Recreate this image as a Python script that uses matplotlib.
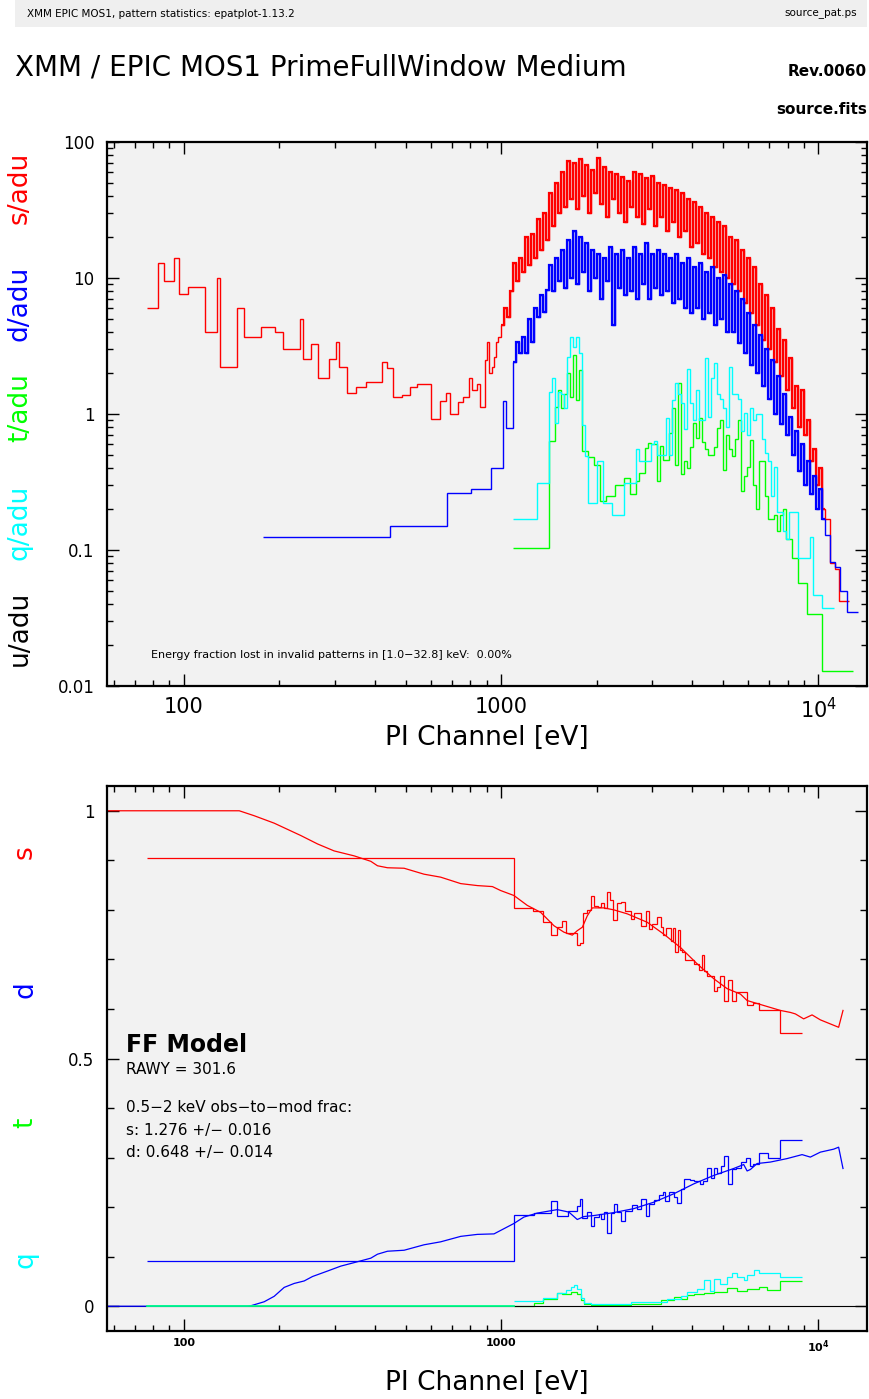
import matplotlib
matplotlib.use("Agg")
import matplotlib.pyplot as plt
from matplotlib.patches import Rectangle
from matplotlib.ticker import LogLocator, MultipleLocator, NullFormatter

W, H = 869, 1399

# ---------------- top panel: pattern spectra per adu ----------------
# singles, coarse low-energy bins
s_low_edges = [76.3, 83.0, 86.3, 92.8, 96.2, 103.2, 116.7, 126.8, 130.1, 147.2,
               154.2, 174.4, 194.0, 204.6, 231.4, 237.5, 251.7, 264.8, 285.6, 300.5,
               308.4, 326.1, 349.9, 373.6, 422.6, 438.2, 457.7, 488.5, 517.6, 542.0,
               601.0, 641.6, 668.7, 689.9, 729.6, 760.4, 790.1, 811.7, 837.4, 857.7,
               889.4, 905.0, 915.6, 938.6, 949.4, 966.2, 977.0, 1000]
s_low = [6.02, 13.0, 9.55, 14.1, 7.59, 8.54, 4.03, 10.0, 2.22, 6.02,
         3.68, 4.36, 4.03, 3.02, 5.02, 2.52, 3.25, 1.85, 2.52, 3.37,
         2.20, 1.43, 1.57, 1.72, 2.42, 2.19, 1.34, 1.38, 1.57, 1.67,
         0.923, 1.25, 1.43, 1.0, 1.22, 1.34, 1.84, 1.50, 1.67, 1.12,
         2.50, 3.37, 2.01, 2.20, 2.61, 3.39, 3.68]

# fine PI channel grid 1 - 10.5 keV
pi_edges = [1000, 1022, 1044, 1067, 1091, 1115, 1139, 1164, 1190, 1216,
            1243, 1270, 1298, 1327, 1356, 1386, 1416, 1447, 1479, 1512,
            1545, 1579, 1614, 1649, 1685, 1722, 1760, 1799, 1839, 1879,
            1920, 1962, 2006, 2050, 2095, 2141, 2188, 2236, 2285, 2336,
            2387, 2440, 2493, 2548, 2604, 2661, 2720, 2780, 2841, 2903,
            2967, 3032, 3099, 3167, 3237, 3308, 3381, 3455, 3531, 3609,
            3688, 3769, 3852, 3937, 4023, 4112, 4202, 4295, 4389, 4486,
            4584, 4685, 4788, 4894, 5001, 5111, 5224, 5339, 5456, 5576,
            5699, 5824, 5952, 6083, 6217, 6354, 6493, 6636, 6782, 6931,
            7084, 7240, 7399, 7562, 7728, 7898, 8072, 8250, 8431, 8617,
            8806, 9000, 9198, 9400, 9607, 9818, 10034, 10255, 10481]

s_mid = [4.5, 6.0, 5.2, 8.0, 13.0, 9.5, 14.0, 11.0, 20.0, 12.5,
         21.0, 14.0, 27.0, 16.0, 30.0, 19.0, 42.0, 24.0, 50.0, 30.0,
         60.0, 33.0, 72.0, 38.0, 70.0, 32.0, 75.0, 40.0, 68.0, 30.0,
         62.0, 42.0, 76.0, 35.0, 66.0, 28.0, 60.0, 38.0, 58.0, 30.0,
         55.0, 26.0, 52.0, 33.0, 60.0, 28.0, 58.0, 25.0, 54.0, 32.0,
         56.0, 24.0, 50.0, 28.0, 48.0, 22.0, 46.0, 26.0, 44.0, 20.0,
         42.0, 22.0, 38.0, 17.0, 36.0, 18.0, 33.0, 15.0, 30.0, 14.0,
         28.0, 12.0, 26.0, 11.0, 24.0, 10.0, 20.0, 9.0, 19.0, 8.0,
         16.0, 6.5, 14.0, 5.5, 12.0, 4.5, 9.0, 3.5, 7.5, 3.0,
         6.0, 2.4, 4.2, 1.9, 3.5, 1.5, 2.6, 1.1, 1.6, 0.8,
         1.5, 0.7, 0.9, 0.45, 0.55, 0.3, 0.4, 0.2]
s_tail_edges = [10481, 10900, 11300, 11650, 12450]
s_tail = [0.17, 0.08, 0.073, 0.042]

# doubles
d_low_edges = [177.8, 446.5, 677, 805.6, 926.6, 1011, 1038, 1091]
d_low = [0.125, 0.149, 0.264, 0.279, 0.401, 1.25, 0.785]
d_mid = [2.4, 3.37, 2.8, 3.7, 2.8, 5.0,
         3.4, 6.0, 5.2, 7.5, 5.6, 8.2, 12.5, 8.0, 14.0, 9.5,
         16.0, 8.5, 19.0, 10.0, 22.0, 9.0, 20.0, 11.0, 18.0, 8.0,
         16.0, 10.0, 15.0, 7.0, 14.0, 9.5, 17.0, 4.5, 15.0, 8.5,
         16.0, 7.5, 14.0, 8.0, 17.0, 7.0, 15.0, 9.0, 18.0, 7.0,
         15.0, 8.5, 16.0, 7.5, 15.0, 8.0, 14.0, 6.5, 15.0, 7.0,
         13.0, 6.0, 14.0, 5.5, 12.0, 6.0, 13.0, 5.0, 11.0, 5.5,
         12.0, 4.5, 10.0, 5.0, 10.5, 4.0, 9.0, 4.0, 8.0, 3.3,
         7.0, 2.8, 5.5, 2.3, 4.5, 2.0, 3.8, 1.6, 3.0, 1.3,
         2.5, 1.0, 1.9, 0.85, 1.4, 0.7, 0.95, 0.5, 0.75, 0.38,
         0.6, 0.3, 0.45, 0.26, 0.35, 0.2, 0.28, 0.17]
d_tail_edges = [10481, 10900, 11300, 11700, 12300, 13300]
d_tail = [0.13, 0.081, 0.075, 0.05, 0.035]

# triples
t_mid = [0.103] * 12 + [0.63, 0.63, 1.12, 1.5,
         1.10, 1.4, 2.0, 1.34, 2.7, 1.26, 2.1, 0.53, 0.53, 0.48,
         0.48, 0.42, 0.42, 0.23, 0.23, 0.25, 0.25, 0.25, 0.30, 0.30,
         0.30, 0.34, 0.34, 0.26, 0.26, 0.32, 0.37, 0.37, 0.56, 0.61,
         0.60, 0.60, 0.32, 0.58, 0.46, 0.46, 0.72, 1.10, 0.42, 1.7,
         0.36, 0.45, 0.40, 0.57, 0.86, 0.67, 0.93, 0.62, 0.55, 0.50,
         0.50, 0.57, 0.79, 0.91, 0.39, 0.70, 0.55, 0.49, 0.66, 0.91,
         0.27, 0.35, 0.41, 0.64, 0.30, 0.20, 0.45, 0.45, 0.25, 0.168,
         0.168, 0.18, 0.138, 0.18, 0.20, 0.12, 0.12, 0.088, 0.088, 0.057,
         0.057, 0.057, 0.034, 0.034, 0.034, 0.034, 0.034, 0.0128]
t_tail_edges = [10481, 12900]
t_tail = [0.0128]

# quadruples
q_mid = [0.168] * 8 + [0.31, 0.31, 0.31, 0.31, 1.46, 1.83, 0.86, 1.46,
         1.4, 1.11, 2.64, 3.7, 3.1, 3.7, 2.8, 0.83, 0.49, 0.22,
         0.22, 0.22, 0.45, 0.45, 0.22, 0.22, 0.22, 0.18, 0.18, 0.18,
         0.18, 0.31, 0.31, 0.31, 0.31, 0.55, 0.45, 0.45, 0.45, 0.45,
         0.60, 0.63, 0.50, 0.50, 0.50, 0.93, 0.50, 1.26, 1.7, 1.4,
         1.2, 0.78, 2.16, 1.2, 0.9, 1.5, 0.9, 0.9, 2.6, 0.95,
         1.83, 2.36, 1.4, 1.3, 1.1, 0.8, 2.2, 1.4, 1.4, 1.3,
         0.75, 1.02, 0.70, 1.1, 0.9, 1.0, 1.0, 0.65, 0.52, 0.45,
         0.25, 0.41, 0.19, 0.19, 0.138, 0.12, 0.19, 0.19, 0.19, 0.088,
         0.088, 0.088, 0.088, 0.125, 0.047, 0.047, 0.047, 0.0375]
q_tail_edges = [10481, 11200]
q_tail = [0.0375]

# ---------------- bottom panel: pattern fractions ----------------
s_model_e = [50, 149.4, 166.5, 192.5, 233.6, 263.8, 297.4, 343.9, 388.2, 407.5,
             438.2, 494.4, 571.3, 644.7, 745.6, 841.4, 938.4, 996.3, 1097, 1209,
             1332, 1467, 1577, 1676, 1738, 1803, 1869, 1938, 2108, 2266,
             2497, 2887, 3257, 3677, 4150, 4680, 5157, 5680, 5963, 6727,
             7593, 8163, 8464, 8989, 9554, 10146, 11586, 11960]
s_model = [1.0, 1.0, 0.990, 0.975, 0.950, 0.933, 0.919, 0.909, 0.898, 0.889,
           0.885, 0.884, 0.872, 0.866, 0.853, 0.849, 0.847, 0.839, 0.829, 0.809,
           0.795, 0.768, 0.755, 0.749, 0.758, 0.765, 0.788, 0.804, 0.804, 0.800,
           0.792, 0.775, 0.751, 0.724, 0.691, 0.661, 0.641, 0.630, 0.617, 0.607,
           0.597, 0.593, 0.590, 0.580, 0.588, 0.578, 0.563, 0.597]

d_model_e = [50, 158.7, 162.6, 179.0, 192.5, 207.0, 222.6, 239.3, 254.3, 283.5,
             312.3, 343.9, 388.2, 407.5, 438.2, 494.4, 571.3, 644.7, 745.6, 841.4,
             949.4, 1097, 1180, 1300, 1503, 1635, 1738, 1823, 1960, 2266,
             2620, 3028, 3503, 4049, 4680, 5410, 5817, 5963, 6107, 6411,
             7062, 7970, 8887, 9436, 10146, 11174, 11586, 11960]
d_model = [0.0, 0.0, 0.001, 0.009, 0.020, 0.038, 0.046, 0.051, 0.060, 0.071,
           0.081, 0.088, 0.097, 0.105, 0.111, 0.113, 0.124, 0.130, 0.141, 0.145,
           0.146, 0.167, 0.180, 0.188, 0.195, 0.190, 0.175, 0.181, 0.183, 0.189,
           0.197, 0.210, 0.227, 0.247, 0.264, 0.278, 0.286, 0.273, 0.276, 0.288,
           0.291, 0.298, 0.306, 0.301, 0.311, 0.317, 0.321, 0.278]

tq_model_e = [76.3, 1100]
t_model = [0.0, 0.0]
q_model = [0.0, 0.0]

s_frac_edges = [76.3, 1100, 1259, 1358, 1439, 1496, 1551, 1605, 1738, 1771,
                1810, 1869, 1914, 1960, 2018, 2069, 2108, 2161, 2202, 2257,
                2323, 2379, 2449, 2571, 2620, 2750, 2866, 2921, 2995, 3105,
                3180, 3243, 3314, 3419, 3487, 3545, 3605, 3658, 3722, 3811,
                3903, 4049, 4198, 4303, 4374, 4460, 4680, 4797, 4913, 5032,
                5180, 5348, 5517, 5680, 5963, 6228, 6486, 7555, 8887]
s_frac = [0.905, 0.803, 0.797, 0.776, 0.750, 0.766, 0.777, 0.753, 0.730, 0.733,
          0.793, 0.800, 0.827, 0.808, 0.805, 0.814, 0.804, 0.837, 0.819, 0.780,
          0.814, 0.815, 0.798, 0.782, 0.793, 0.768, 0.797, 0.762, 0.772, 0.785,
          0.765, 0.749, 0.763, 0.738, 0.763, 0.714, 0.760, 0.718, 0.714, 0.699,
          0.698, 0.691, 0.679, 0.708, 0.677, 0.667, 0.637, 0.644, 0.666, 0.617,
          0.659, 0.617, 0.634, 0.634, 0.608, 0.612, 0.597, 0.552]

d_frac_edges = [76.3, 1100, 1269, 1439, 1496, 1623, 1738, 1771, 1803, 1859,
                1914, 1960, 2032, 2069, 2108, 2161, 2213, 2266, 2323, 2379,
                2449, 2589, 2685, 2764, 2866, 2935, 3028, 3141, 3243, 3297,
                3377, 3503, 3589, 3695, 3784, 3933, 4049, 4249, 4334, 4460,
                4592, 4680, 4797, 4939, 5032, 5180, 5348, 5517, 5709, 5933,
                6107, 6228, 6486, 6925, 7555, 8887]
d_frac = [0.0907, 0.185, 0.188, 0.212, 0.183, 0.192, 0.202, 0.216, 0.179, 0.190,
          0.161, 0.181, 0.187, 0.177, 0.190, 0.148, 0.188, 0.207, 0.190, 0.172,
          0.192, 0.204, 0.197, 0.217, 0.183, 0.207, 0.214, 0.224, 0.230, 0.212,
          0.230, 0.220, 0.208, 0.237, 0.257, 0.254, 0.252, 0.247, 0.252, 0.278,
          0.259, 0.278, 0.269, 0.284, 0.304, 0.247, 0.276, 0.280, 0.291, 0.300,
          0.284, 0.288, 0.309, 0.299, 0.336]

t_frac_edges = [1097, 1269, 1358, 1496, 1559, 1655, 1738, 1782, 1823, 1914,
                2558, 3180, 3503, 3677, 3859, 4049, 4355, 4680, 5157, 5545,
                5963, 6486, 6895, 7555, 8887]
t_frac = [0.001, 0.007, 0.0155, 0.026, 0.024, 0.029, 0.025, 0.012, 0.004, 0.003,
          0.005, 0.012, 0.019, 0.014, 0.022, 0.025, 0.027, 0.029, 0.036, 0.031,
          0.034, 0.038, 0.032, 0.051]

q_frac_edges = [1097, 1358, 1496, 1597, 1655, 1696, 1738, 1782, 1823, 1914,
                2558, 3339, 3677, 3859, 4150, 4355, 4569, 4680, 4913, 5157,
                5348, 5545, 5817, 5963, 6252, 6486, 7555, 8887]
q_frac = [0.010, 0.0175, 0.026, 0.032, 0.039, 0.042, 0.035, 0.016, 0.007, 0.005,
          0.008, 0.0155, 0.021, 0.029, 0.035, 0.052, 0.030, 0.054, 0.045, 0.059,
          0.067, 0.060, 0.052, 0.0625, 0.0726, 0.067, 0.058]

RED, BLUE, GREEN, CYAN = "#ff0000", "#0000ff", "#00ff00", "#00ffff"


def fx(x):
    return x / W


def fy(y):
    return 1 - y / H


fig = plt.figure(figsize=(W / 100, H / 100), dpi=100)

# header strip and titles
fig.patches.append(Rectangle((fx(15), fy(27)), 852 / W, 27 / H, transform=fig.transFigure,
                             facecolor="#efefef", edgecolor="none", zorder=0))
fig.text(fx(27), fy(14), "XMM EPIC MOS1, pattern statistics: epatplot-1.13.2", fontsize=7.5, va="center")
fig.text(fx(857), fy(14), "source_pat.ps", fontsize=7.5, va="center", ha="right")
fig.text(fx(15), fy(68), "XMM / EPIC MOS1 PrimeFullWindow Medium", fontsize=20, va="center")
fig.text(fx(867), fy(72), "Rev.0060", fontsize=11, fontweight="bold", ha="right", va="center")
fig.text(fx(867), fy(110), "source.fits", fontsize=11, fontweight="bold", ha="right", va="center")

ax1 = fig.add_axes([fx(107), fy(686), 760 / W, 544 / H])
ax2 = fig.add_axes([fx(107), fy(1331), 760 / W, 545 / H])

for ax in (ax1, ax2):
    ax.set_facecolor("#f2f2f2")
    ax.set_xscale("log")
    ax.set_xlim(57.2, 14236)
    for sp in ax.spines.values():
        sp.set_linewidth(1.6)
    ax.tick_params(which="both", direction="in", top=True, right=True, width=1.0)
    ax.tick_params(which="major", length=8.5)
    ax.tick_params(which="minor", length=4)
    ax.xaxis.set_minor_locator(LogLocator(base=10, subs=range(2, 10)))
    ax.xaxis.set_minor_formatter(NullFormatter())
    ax.set_xticks([100, 1000, 10000])

# ---- top panel ----
ax1.set_yscale("log")
ax1.set_ylim(0.01, 100)
ax1.set_yticks([0.01, 0.1, 1, 10, 100])
ax1.set_yticklabels(["0.01", "0.1", "1", "10", "100"], fontsize=12)
ax1.yaxis.set_minor_locator(LogLocator(base=10, subs=range(2, 10)))
ax1.yaxis.set_minor_formatter(NullFormatter())
ax1.tick_params(axis="y", which="major", pad=9)
ax1.set_xticklabels(["100", "1000", r"$10^4$"], fontsize=15)
ax1.tick_params(axis="x", which="major", pad=8)

ax1.stairs(s_low + s_mid + s_tail, s_low_edges[:-1] + pi_edges + s_tail_edges[1:],
           color=RED, lw=1.0, baseline=None)
ax1.stairs(s_mid, pi_edges, color=RED, lw=1.6, baseline=None)
ax1.stairs(d_low + d_mid + d_tail, d_low_edges[:-1] + pi_edges[4:] + d_tail_edges[1:],
           color=BLUE, lw=1.0, baseline=None)
ax1.stairs(d_mid, pi_edges[4:], color=BLUE, lw=1.6, baseline=None)
ax1.stairs(t_mid + t_tail, pi_edges[4:] + t_tail_edges[1:], color=GREEN, lw=1.0, baseline=None)
ax1.stairs(q_mid + q_tail, pi_edges[4:] + q_tail_edges[1:], color=CYAN, lw=1.0, baseline=None)

fig.text(fx(151), fy(655), "Energy fraction lost in invalid patterns in [1.0\u221232.8] keV:  0.00%",
         fontsize=8, va="center")
fig.text(fx(487), fy(738), "PI Channel [eV]", fontsize=19, ha="center", va="center")

for lab, col, yy in [("s/adu", RED, 188), ("d/adu", BLUE, 303), ("t/adu", GREEN, 408),
                     ("q/adu", CYAN, 522), ("u/adu", "black", 628)]:
    fig.text(fx(20), fy(yy), lab, color=col, fontsize=19, rotation=90, ha="center", va="center")

# ---- bottom panel ----
ax2.set_ylim(-0.05, 1.05)
ax2.set_yticks([0, 0.5, 1])
ax2.set_yticklabels(["0", "0.5", "1"], fontsize=12)
ax2.yaxis.set_minor_locator(MultipleLocator(0.1))
ax2.tick_params(axis="y", which="minor", length=5)
ax2.tick_params(axis="y", which="major", pad=9)
ax2.set_xticklabels(["100", "1000", r"$\mathbf{10^4}$"], fontsize=8, fontweight="bold")
ax2.tick_params(axis="x", which="major", pad=5)

ax2.axhline(0, color="black", lw=0.8)
ax2.plot(d_model_e, d_model, color=BLUE, lw=0.9)
ax2.plot(tq_model_e, t_model, color=GREEN, lw=1.2)
ax2.plot(tq_model_e, q_model, color=CYAN, lw=1.2, alpha=0.6)
ax2.plot(s_model_e, s_model, color=RED, lw=0.9)
ax2.stairs(s_frac, s_frac_edges, color=RED, lw=0.9, baseline=None)
ax2.stairs(d_frac, d_frac_edges, color=BLUE, lw=0.9, baseline=None)
ax2.stairs(t_frac, t_frac_edges, color=GREEN, lw=0.9, baseline=None)
ax2.stairs(q_frac, q_frac_edges, color=CYAN, lw=0.9, baseline=None)

fig.text(fx(126), fy(1045), "FF Model", fontsize=17, fontweight="bold", va="center")
fig.text(fx(126), fy(1070), "RAWY = 301.6", fontsize=11, va="center")
fig.text(fx(126), fy(1108), "0.5\u22122 keV obs\u2212to\u2212mod frac:", fontsize=11, va="center")
fig.text(fx(126), fy(1130), "s: 1.276 +/\u2212 0.016", fontsize=11, va="center")
fig.text(fx(126), fy(1152), "d: 0.648 +/\u2212 0.014", fontsize=11, va="center")
fig.text(fx(487), fy(1383), "PI Channel [eV]", fontsize=19, ha="center", va="center")

for lab, col, yy in [("s", RED, 852), ("d", BLUE, 990), ("t", GREEN, 1123), ("q", CYAN, 1260)]:
    fig.text(fx(25), fy(yy), lab, color=col, fontsize=19, rotation=90, ha="center", va="center")

fig.savefig("out.png", dpi=100)
